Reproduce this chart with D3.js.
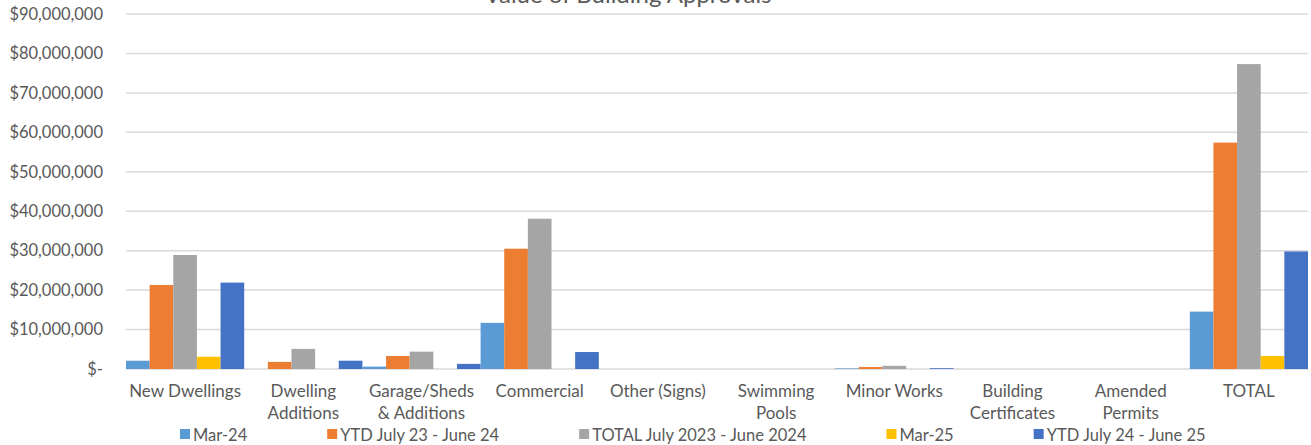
<!DOCTYPE html>
<style>
body { margin: 0; background: #fff; }
svg text { font-family: Lato, "Open Sans", sans-serif; fill: #595959; }
</style>
<svg width="1311" height="445"></svg>
<script src="https://d3js.org/d3.v7.min.js"></script>
<script>

var categories = ["New Dwellings", "Dwelling Additions", "Garage/Sheds & Additions", "Commercial",
  "Other (Signs)", "Swimming Pools", "Minor Works", "Building Certificates", "Amended Permits", "TOTAL"];

var seriesNames = ["Mar-24", "YTD July 23 - June 24", "TOTAL July 2023 - June 2024", "Mar-25", "YTD July 24 - June 25"];

var mar24    = [2100000, 0, 600000, 11700000, 0, 0, 150000, 0, 0, 14550000];
var ytd2324  = [21300000, 1800000, 3300000, 30500000, 0, 0, 500000, 0, 0, 57400000];
var total2324 = [28900000, 5100000, 4400000, 38100000, 0, 0, 800000, 0, 0, 77300000];
var mar25    = [3100000, 0, 0, 0, 0, 0, 0, 0, 0, 3300000];
var ytd2425  = [21900000, 2100000, 1300000, 4300000, 0, 0, 200000, 0, 0, 29800000];

var yTicks = [0, 10e6, 20e6, 30e6, 40e6, 50e6, 60e6, 70e6, 80e6, 90e6];

var colors = ["#5B9BD5", "#ED7D31", "#A5A5A5", "#FFC000", "#4472C4"];

var seriesValues = [mar24, ytd2324, total2324, mar25, ytd2425];

var svg = d3.select("svg");
var plotLeft = 126, plotRight = 1308, plotTop = 14, plotBottom = 369;

var x0 = d3.scaleBand().domain(categories).range([plotLeft, plotRight]).padding(0);
var x1 = d3.scaleBand().domain(seriesNames).range([0, x0.bandwidth()]).padding(0);
var y = d3.scaleLinear().domain([0, 90e6]).range([plotBottom, plotTop]);
var z = d3.scaleOrdinal().domain(seriesNames).range(colors);

// gridlines
svg.append("g")
  .selectAll("line")
  .data(yTicks)
  .enter().append("line")
    .attr("x1", plotLeft)
    .attr("x2", plotRight)
    .attr("y1", function(d) { return y(d); })
    .attr("y2", function(d) { return y(d); })
    .attr("stroke", "#d9d9d9")
    .attr("stroke-width", 1.5);

// y labels
var fmt = d3.format("$,");
svg.append("g")
  .selectAll("text")
  .data(yTicks)
  .enter().append("text")
    .attr("x", 103)
    .attr("y", function(d) { return y(d); })
    .attr("dy", "0.35em")
    .attr("text-anchor", "end")
    .attr("font-size", 16.5)
    .text(function(d) { return d === 0 ? "$-" : fmt(d); });

// bars
var rows = categories.map(function(c, i) {
  return {cat: c, vals: seriesNames.map(function(s, j) { return {key: s, value: seriesValues[j][i]}; })};
});

svg.append("g")
  .selectAll("g")
  .data(rows)
  .enter().append("g")
    .attr("transform", function(d) { return "translate(" + x0(d.cat) + ",0)"; })
  .selectAll("rect")
  .data(function(d) { return d.vals; })
  .enter().append("rect")
    .attr("x", function(d) { return x1(d.key); })
    .attr("y", function(d) { return y(d.value); })
    .attr("width", x1.bandwidth())
    .attr("height", function(d) { return plotBottom - y(d.value); })
    .attr("fill", function(d) { return z(d.key); });

// category labels, wrapped
var catLabels = svg.append("g")
  .selectAll("text")
  .data(categories)
  .enter().append("text")
    .attr("x", function(d) { return x0(d) + x0.bandwidth() / 2; })
    .attr("y", 397)
    .attr("text-anchor", "middle")
    .attr("font-size", 17);

catLabels.each(function(d) {
  var el = d3.select(this), words = d.split(" "), line = [], lines = [];
  var probe = el.append("tspan");
  words.forEach(function(w) {
    line.push(w);
    probe.text(line.join(" "));
    if (probe.node().getComputedTextLength() > 116 && line.length > 1) {
      line.pop();
      lines.push(line.join(" "));
      line = [w];
    }
  });
  lines.push(line.join(" "));
  probe.remove();
  lines.forEach(function(t, i) {
    el.append("tspan")
      .attr("x", x0(d) + x0.bandwidth() / 2)
      .attr("y", 397 + i * 22)
      .text(t);
  });
});

// title
svg.append("text")
  .attr("x", 628)
  .attr("y", 3)
  .attr("text-anchor", "middle")
  .attr("font-size", 24)
  .text("Value of Building Approvals");

// legend
var legend = svg.append("g").attr("font-size", 16.5);
var lx = 180;
seriesNames.forEach(function(s, i) {
  var item = legend.append("g").attr("transform", "translate(" + lx + ",0)");
  item.append("rect")
    .attr("x", 0).attr("y", 429)
    .attr("width", 10).attr("height", 10)
    .attr("fill", z(s));
  var t = item.append("text")
    .attr("x", 13).attr("y", 441)
    .text(s);
  lx += 13 + t.node().getComputedTextLength() + 80;
});

</script>
